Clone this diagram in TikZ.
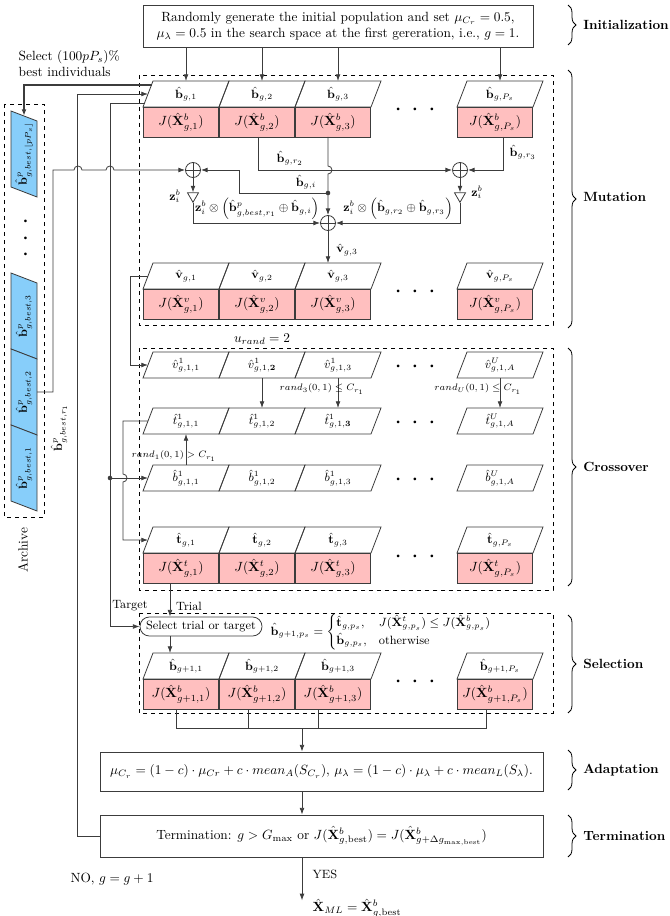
\documentclass[tikz,border=0pt]{standalone}
\usepackage{amsmath, amssymb}
\usepackage{xcolor}
\usepackage{tikz}
\usetikzlibrary{arrows.meta,positioning,shapes.geometric,decorations.pathreplacing,calc}
\definecolor{fitpink}{RGB}{255,191,191}
\definecolor{archblue}{RGB}{135,206,250}
\definecolor{linegray}{RGB}{60,60,60}

% slanted population cell: outline first, then the named label node
\newcommand{\popcell}[3]{%
  \draw[celledge] ($(#2)+(-43,13)$) -- ($(#2)+(33,13)$) -- ($(#2)+(43,-13)$) -- ($(#2)+(-33,-13)$) -- cycle;
  \node[cellbox] (#1) at (#2) {#3};
}
% upright archive cell
\newcommand{\arcell}[3]{%
  \draw[celledge, fill=archblue] ($(#2)+(-13,-43)$) -- ($(#2)+(13,-33)$) -- ($(#2)+(13,43)$) -- ($(#2)+(-13,33)$) -- cycle;
  \node[cellbox, rotate=90] (#1) at (#2) {#3};
}

\begin{document}
\begin{tikzpicture}[
    x=0.75pt,
    y=-0.75pt,
    >={Latex[length=5pt,width=3.6pt]},
    celledge/.style={draw=linegray, line width=0.6pt},
    cellbox/.style={minimum width=48pt, minimum height=18pt, inner sep=0pt, outer sep=0.75pt, font=\small},
    fitcell/.style={draw=linegray, line width=0.6pt, fill=fitpink, minimum width=56.4pt, minimum height=22.5pt, inner sep=0pt, outer sep=0pt},
    stagebox/.style={draw=linegray, line width=0.6pt, align=center, inner sep=2pt},
    stagearea/.style={dashed, line width=0.5pt},
    stagebrace/.style={decorate, decoration={brace, amplitude=6pt}, line width=0.6pt},
    stagelabel/.style={anchor=west, font=\bfseries, inner sep=0pt},
    conn/.style={->, draw=linegray, line width=0.6pt},
    sumnode/.style={circle, draw=linegray, line width=0.6pt, minimum size=11.25pt, inner sep=0pt,
        path picture={\draw[linegray, line width=0.6pt] (path picture bounding box.north) -- (path picture bounding box.south)
        (path picture bounding box.west) -- (path picture bounding box.east);}},
    ampnode/.style={draw=linegray, line width=0.6pt, regular polygon, regular polygon sides=3, shape border rotate=180, minimum size=9.5pt, inner sep=0pt},
    dotsrow/.style={inner sep=0pt, font=\scriptsize},
    randlabel/.style={font=\scriptsize, inner sep=1pt}
]
\useasboundingbox (0,0) rectangle (669,916);

% Initialization
\node[stagebox, minimum width=292.5pt, minimum height=31.5pt] (init) at (338,26)
{Randomly generate the initial population and set $\mu_{C_r}=0.5$,\\
$\mu_\lambda = 0.5$ in the search space at the first gereration, i.e., $g=1$.};

% Dashed stage areas
\draw[stagearea] (139,75) rectangle (553,325);
\draw[stagearea] (139,348) rectangle (553,590);
\draw[stagearea] (139,613) rectangle (553,713);
\draw[stagearea] (4,104) rectangle (44,517);

% Population b
\popcell{p11}{186,94}{$\hat{\mathbf{b}}_{g,1}$}
\popcell{p12}{262,94}{$\hat{\mathbf{b}}_{g,2}$}
\popcell{p13}{338,94}{$\hat{\mathbf{b}}_{g,3}$}
\popcell{p1P}{500,94}{$\hat{\mathbf{b}}_{g,P_s}$}
\node[fitcell] (j11) at (181,122) {$J(\hat{\mathbf{X}}^b_{g,1})$};
\node[fitcell] (j12) at (257,122) {$J(\hat{\mathbf{X}}^b_{g,2})$};
\node[fitcell] (j13) at (333,122) {$J(\hat{\mathbf{X}}^b_{g,3})$};
\node[fitcell] (j1P) at (495,122) {$J(\hat{\mathbf{X}}^b_{g,P_s})$};
\node[dotsrow] (d1) at (415,110) {\textbullet\hspace{6.5pt}\textbullet\hspace{6.5pt}\textbullet};

% Mutant vectors v
\popcell{v11}{186,276}{$\hat{\mathbf{v}}_{g,1}$}
\popcell{v12}{262,276}{$\hat{\mathbf{v}}_{g,2}$}
\popcell{v13}{338,276}{$\hat{\mathbf{v}}_{g,3}$}
\popcell{v1P}{500,276}{$\hat{\mathbf{v}}_{g,P_s}$}
\node[fitcell] (jv1) at (181,304) {$J(\hat{\mathbf{X}}^v_{g,1})$};
\node[fitcell] (jv2) at (257,304) {$J(\hat{\mathbf{X}}^v_{g,2})$};
\node[fitcell] (jv3) at (333,304) {$J(\hat{\mathbf{X}}^v_{g,3})$};
\node[fitcell] (jvP) at (495,304) {$J(\hat{\mathbf{X}}^v_{g,P_s})$};
\node[dotsrow] (d2) at (415,292) {\textbullet\hspace{6.5pt}\textbullet\hspace{6.5pt}\textbullet};

% Init arrows
\draw[conn] (init.south -| p11.north) -- (p11.north);
\draw[conn] (init.south -| p12.north) -- (p12.north);
\draw[conn] (init.south -| p13.north) -- (p13.north);
\draw[conn] (init.south -| p1P.north) -- (p1P.north);

% Mutation operators
\node[sumnode] (plus1) at (193,170) {};
\node[sumnode] (plus3) at (460,170) {};
\node[sumnode] (plus2) at (328,223) {};
\node[ampnode] (amp1) at (193,196) {};
\node[ampnode] (amp2) at (460,196) {};
\coordinate (gidot) at ($(plus2)+(0,-30)$);

\draw[conn] (plus1.south) -- (amp1.north);
\draw[conn] (amp1.south) |- (plus2.west);
\draw[conn] (plus3.south) -- (amp2.north);
\draw[conn] (amp2.south) |- (plus2.east);
\draw[conn] ($(j12.south)+(1,0)$) |- (plus3.west);
\draw[conn] ($(j1P.south)+(8,0)$) |- (plus3.east);
\draw[conn] (j13.south -| plus2) -- ($(plus2 |- plus3)+(0,-4)$) arc[start angle=-90, end angle=90, radius=4] -- (plus2.north);
\fill[linegray] (gidot) circle (2.3);
\draw[conn] (gidot) -| ($(plus1.east)+(38,0)$) -- (plus1.east);
\draw[conn] (plus2.south) -- (plus2.south |- v13.north);

\node[font=\small] (lbr2) at (290,158) {$\hat{\mathbf{b}}_{g,r_2}$};
\node[font=\small] (lbgi) at (306,182) {$\hat{\mathbf{b}}_{g,i}$};
\node[font=\small, anchor=west] (lbr3) at (505,152) {$\hat{\mathbf{b}}_{g,r_3}$};
\node[font=\small] (lz1) at (175,196) {$\mathbf{z}_i^b$};
\node[font=\small] (lz2) at (477,192) {$\mathbf{z}_i^b$};
\node[font=\small] (lzb1) at (257,209) {$\mathbf{z}_i^b \otimes \left(\hat{\mathbf{b}}^p_{g,best,r_1} \oplus \hat{\mathbf{b}}_{g,i}\right)$};
\node[font=\small] (lzb2) at (398,209) {$\mathbf{z}_i^b \otimes \left(\hat{\mathbf{b}}_{g,r_2} \oplus \hat{\mathbf{b}}_{g,r_3}\right)$};
\node[font=\small] (lv3) at (347,250) {$\hat{\mathbf{v}}_{g,3}$};

% Archive
\arcell{a4}{24,154}{$\hat{\mathbf{b}}^p_{g,best,\lfloor pP_s\rfloor}$}
\arcell{a3}{24,316}{$\hat{\mathbf{b}}^p_{g,best,3}$}
\arcell{a2}{24,392}{$\hat{\mathbf{b}}^p_{g,best,2}$}
\arcell{a1}{24,468}{$\hat{\mathbf{b}}^p_{g,best,1}$}
\node[dotsrow, rotate=90] (ad) at (26,238) {\textbullet\hspace{6.5pt}\textbullet\hspace{6.5pt}\textbullet};
\node[rotate=90] (archlbl) at (23,550) {Archive};
\node[anchor=north west, align=left] (selbest) at (14,46) {Select $(100pP_s)\%$\\best individuals};
\node[font=\small, rotate=90] (lbr1) at (59,428) {$\hat{\mathbf{b}}^p_{g,best,r_1}$};

\draw[conn, line width=1.5pt] ($(p11.center)+(-34.5,-9)$) -| ($(a4.center)+(0,-38)$);
\draw[conn] ($(a2.center)+(13,0)$) -- ++(16,0) |- (74,170) arc[start angle=180, end angle=360, radius=4]
    -- (106,170) arc[start angle=180, end angle=360, radius=4] -- (plus1.west);

% Crossover
\node (urand) at (262,339) {$u_{rand} = 2$};
\popcell{c11}{186,365}{$\hat{v}^1_{g,1,1}$}
\popcell{c12}{262,365}{$\hat{v}^1_{g,1,\mathbf{2}}$}
\popcell{c13}{338,365}{$\hat{v}^1_{g,1,3}$}
\popcell{c1A}{500,365}{$\hat{v}^U_{g,1,A}$}
\node[dotsrow] (d3) at (415,367) {\textbullet\hspace{6.5pt}\textbullet\hspace{6.5pt}\textbullet};
\popcell{t11}{186,421}{$\hat{t}^1_{g,1,1}$}
\popcell{t12}{262,421}{$\hat{t}^1_{g,1,2}$}
\popcell{t13}{338,421}{$\hat{t}^1_{g,1,\mathbf{3}}$}
\popcell{t1A}{500,421}{$\hat{t}^U_{g,1,A}$}
\node[dotsrow] (d4) at (415,423) {\textbullet\hspace{6.5pt}\textbullet\hspace{6.5pt}\textbullet};
\popcell{b11}{186,478}{$\hat{b}^1_{g,1,1}$}
\popcell{b12}{262,478}{$\hat{b}^1_{g,1,2}$}
\popcell{b13}{338,478}{$\hat{b}^1_{g,1,3}$}
\popcell{b1A}{500,478}{$\hat{b}^U_{g,1,A}$}
\node[dotsrow] (d5) at (415,480) {\textbullet\hspace{6.5pt}\textbullet\hspace{6.5pt}\textbullet};

\draw[conn] (c12.south) -- (t12.north);
\draw[conn] (c13.south) -- (t13.north);
\draw[conn] (c1A.south) -- (t1A.north);
\draw[conn] (b11.north) -- (t11.south);
\node[randlabel] (lr3) at (322,389) {$rand_3(0,1) \leq C_{r_1}$};
\node[randlabel] (lrU) at (478,389) {$rand_U(0,1) \leq C_{r_1}$};
\node[randlabel] (lr1) at (174,456) {$rand_1(0,1) > C_{r_1}$};

% Trial vectors t
\popcell{tt1}{186,540}{$\hat{\mathbf{t}}_{g,1}$}
\popcell{tt2}{262,540}{$\hat{\mathbf{t}}_{g,2}$}
\popcell{tt3}{338,540}{$\hat{\mathbf{t}}_{g,3}$}
\popcell{ttP}{500,540}{$\hat{\mathbf{t}}_{g,P_s}$}
\node[fitcell] (jt1) at (181,568) {$J(\hat{\mathbf{X}}^t_{g,1})$};
\node[fitcell] (jt2) at (257,568) {$J(\hat{\mathbf{X}}^t_{g,2})$};
\node[fitcell] (jt3) at (333,568) {$J(\hat{\mathbf{X}}^t_{g,3})$};
\node[fitcell] (jtP) at (495,568) {$J(\hat{\mathbf{X}}^t_{g,P_s})$};
\node[dotsrow] (d6) at (415,557) {\textbullet\hspace{6.5pt}\textbullet\hspace{6.5pt}\textbullet};

% Selection
\node[draw=linegray, line width=0.6pt, rounded corners=7pt, font=\small, minimum width=91.5pt, minimum height=14.25pt, inner sep=1pt] (sel) at (201,626.5) {Select trial or target};
\node[font=\small, anchor=west] (rule) at (266,632)
{$\hat{\mathbf{b}}_{g+1,p_s} = \begin{cases} \hat{\mathbf{t}}_{g,p_s}, & J(\hat{\mathbf{X}}^t_{g,p_s}) \leq J(\hat{\mathbf{X}}^b_{g,p_s})\\ \hat{\mathbf{b}}_{g,p_s}, & \text{otherwise}\end{cases}$};
\coordinate (trialx) at ($(jt1.south)+(-11,0)$);
\draw[conn] (trialx) -- (trialx |- sel.north);
\node[font=\small] (ltarget) at (130,606) {Target};
\node[font=\small] (ltrial) at (189,606) {Trial};

% Left feeds
\draw[conn] ($(v11.center)+(-38,0)$) -- ++(-18,0) |- ($(c11.center)+(-38,0)$);
\draw[conn] ($(p11.center)+(-41.5,9)$) -- ++(-34.5,0) coordinate (tgttop) |- (sel.west);
\coordinate (tjn) at (tgttop |- b11.center);
\fill[linegray] (tjn) circle (2.3);
\draw[conn] (tjn) -- ($(b11.center)+(-38,0)$);
\draw[conn] ($(t11.center)+(-38,0)$) -| ($(tjn)+(13,-4)$) arc[start angle=-90, end angle=90, radius=4] |- ($(tt1.center)+(-38,0)$);

\popcell{nb1}{186,666}{$\hat{\mathbf{b}}_{g+1,1}$}
\popcell{nb2}{262,666}{$\hat{\mathbf{b}}_{g+1,2}$}
\popcell{nb3}{338,666}{$\hat{\mathbf{b}}_{g+1,3}$}
\popcell{nbP}{500,666}{$\hat{\mathbf{b}}_{g+1,P_s}$}
\node[fitcell] (k41) at (181,694) {$J(\hat{\mathbf{X}}^b_{g+1,1})$};
\node[fitcell] (k42) at (257,694) {$J(\hat{\mathbf{X}}^b_{g+1,2})$};
\node[fitcell] (k43) at (333,694) {$J(\hat{\mathbf{X}}^b_{g+1,3})$};
\node[fitcell] (k4P) at (495,694) {$J(\hat{\mathbf{X}}^b_{g+1,P_s})$};
\node[dotsrow] (d7) at (415,682) {\textbullet\hspace{6.5pt}\textbullet\hspace{6.5pt}\textbullet};
\draw[conn] (sel.south -| trialx) -- (trialx |- nb1.north);

% Adaptation and termination
\node[stagebox, minimum width=332.25pt, minimum height=29.25pt] (adapt) at (321.5,771.5)
{$\mu_{C_r} = (1-c)\cdot\mu_{Cr} + c\cdot mean_A(S_{C_r})$, $\mu_\lambda = (1-c)\cdot\mu_\lambda + c\cdot mean_L(S_\lambda)$.};
\node[stagebox, minimum width=332.25pt, minimum height=31.5pt] (term) at (321.5,836)
{Termination: $g > G_{\max}$ or $J(\hat{\mathbf{X}}^b_{g,\text{best}}) = J(\hat{\mathbf{X}}^b_{g+\Delta g_{\max,\text{best}}})$};

\coordinate (colx) at (302,728);
\draw[celledge] ($(k41.south)+(-5,0)$) |- ($(k4P.south)+(-9,19)$) -- ($(k4P.south)+(-9,0)$);
\draw[celledge] ($(k42.south)+(-9,0)$) -- ++(0,19);
\draw[celledge] ($(k43.south)+(-15,0)$) -- ++(0,19);
\draw[conn] (colx) -- (colx |- adapt.north);
\draw[conn] (adapt.south -| colx) -- (term.north -| colx);
\draw[conn] (term.south -| colx) -- ++(0,43) coordinate (endp);
\draw[conn] (term.west) -- ++(-22,0) |- ($(p11.center)+(-38,0)$);

\node[anchor=west, font=\small] (yes) at (308,874) {YES};
\node[anchor=west] (res) at (308,908) {$\hat{\mathbf{X}}_{ML} = \hat{\mathbf{X}}^b_{g,\text{best}}$};
\node (no) at (112,879) {NO, $g=g+1$};

% Stage braces
\draw[stagebrace] (568,5) -- (568,45);
\draw[stagebrace] (568,70) -- (568,328);
\draw[stagebrace] (568,348) -- (568,586);
\draw[stagebrace] (568,615) -- (568,713);
\draw[stagebrace] (568,750) -- (568,790);
\draw[stagebrace] (568,815) -- (568,857);
\node[stagelabel] (sinit) at (583,25) {Initialization};
\node[stagelabel] (smut) at (583,197) {Mutation};
\node[stagelabel] (scross) at (583,467) {Crossover};
\node[stagelabel] (ssel) at (583,664) {Selection};
\node[stagelabel] (sadapt) at (583,770) {Adaptation};
\node[stagelabel] (sterm) at (583,836) {Termination};
\end{tikzpicture}
\end{document}
